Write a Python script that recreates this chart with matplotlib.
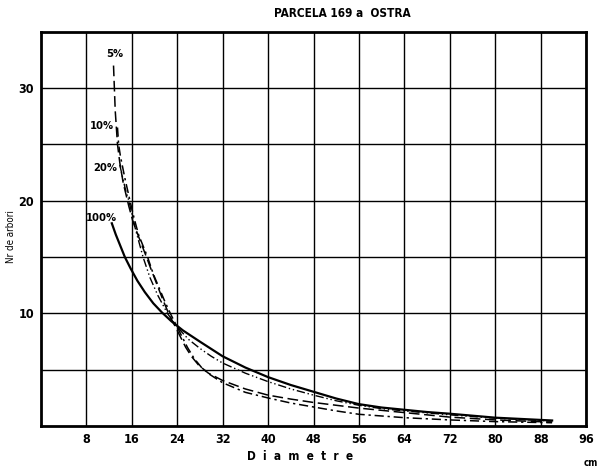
import matplotlib.pyplot as plt

plt.rcParams['font.family'] = ['Liberation Sans Narrow', 'DejaVu Sans']
plt.rcParams['font.stretch'] = 'condensed'

# distributia arborilor pe diametre, pentru fiecare intensitate de sondaj
x_100 = [12.5, 13.2, 14.0, 14.8, 15.8, 17.0, 18.3, 19.8, 21.3, 23.0, 25.0, 28.0, 32.0, 36.0, 40.0,
         44.0, 48.0, 52.0, 56.0, 60.0, 64.0, 68.0, 72.0, 80.0, 90.0]
y_100 = [18.0, 17.0, 16.0, 15.0, 14.0, 12.9, 11.9, 10.9, 10.1, 9.3, 8.5, 7.5, 6.2, 5.2, 4.35,
         3.65, 3.05, 2.45, 1.95, 1.65, 1.45, 1.25, 1.1, 0.75, 0.5]

x_20 = [13.9, 14.3, 14.9, 15.5, 16.7, 18.0, 19.2, 20.6, 22.3, 24.0, 26.0, 28.0, 30.0, 32.0, 36.0,
        40.0, 44.0, 48.0, 52.0, 56.0, 60.0, 64.0, 72.0, 80.0, 90.0]
y_20 = [23.2, 22.3, 21.0, 20.0, 17.4, 15.0, 13.2, 11.6, 10.0, 8.8, 7.7, 6.9, 6.2, 5.6, 4.7,
        3.95, 3.3, 2.75, 2.25, 1.85, 1.55, 1.35, 1.0, 0.7, 0.45]

x_10 = [13.5, 13.7, 14.0, 14.8, 15.7, 16.4, 17.2, 18.8, 19.8, 20.8, 21.8, 22.8, 23.8, 24.8, 25.8,
        27.0, 28.3, 29.7, 32.0, 36.0, 40.0, 44.0, 48.0, 52.0, 56.0, 64.0, 72.0, 80.0, 90.0]
y_10 = [26.5, 25.0, 24.0, 22.0, 20.0, 18.5, 17.0, 15.0, 13.5, 12.3, 11.1, 10.0, 9.0, 8.0, 7.0,
        6.0, 5.2, 4.6, 3.85, 3.0, 2.5, 2.05, 1.7, 1.35, 1.05, 0.75, 0.55, 0.4, 0.3]

x_5 = [12.8, 12.95, 13.1, 13.3, 13.5, 13.9, 14.5, 15.5, 16.2, 17.0, 18.6, 19.5, 20.5, 21.5, 22.5,
       23.5, 24.5, 25.5, 26.5, 27.8, 29.5, 32.0, 36.0, 40.0, 44.0, 48.0, 52.0, 56.0, 64.0, 72.0,
       80.0, 90.0]
y_5 = [32.0, 30.0, 28.0, 26.5, 25.0, 23.4, 21.6, 19.5, 18.2, 17.1, 15.0, 13.8, 12.5, 11.2, 10.0,
       9.0, 8.0, 7.0, 6.2, 5.4, 4.7, 4.05, 3.3, 2.75, 2.4, 2.1, 1.85, 1.6, 1.2, 0.8,
       0.55, 0.35]

x_ticks = [8, 16, 24, 32, 40, 48, 56, 64, 72, 80, 88, 96]
y_ticks = [10, 20, 30]

fig = plt.figure(figsize=(6, 4.74), dpi=100)
ax = fig.add_axes([0.068, 0.101, 0.909, 0.832])

ax.plot(x_100, y_100, color='black', lw=1.6, ls='-')
ax.plot(x_20, y_20, color='black', lw=1.0, ls=(0, (6, 2, 1, 2, 1, 2)))
ax.plot(x_10, y_10, color='black', lw=1.1, ls=(0, (6, 2.5, 1.5, 2.5)))
ax.plot(x_5, y_5, color='black', lw=1.1, ls=(0, (7, 3)))

ax.text(13.0, 32.6, '5%', fontsize=8, fontweight='bold', ha='center', va='bottom')
ax.text(12.9, 26.6, '10%', fontsize=8, fontweight='bold', ha='right', va='center')
ax.text(13.5, 22.9, '20%', fontsize=8, fontweight='bold', ha='right', va='center')
ax.text(13.4, 18.5, '100%', fontsize=8, fontweight='bold', ha='right', va='center')

ax.set_xlim(0, 96)
ax.set_ylim(0, 35)
ax.set_xticks(x_ticks)
ax.set_xticklabels([str(v) for v in x_ticks], fontsize=9, fontweight='bold')
ax.set_yticks(y_ticks)
ax.set_yticklabels([str(v) for v in y_ticks], fontsize=9, fontweight='bold')
ax.set_yticks([5, 15, 25], minor=True)
ax.tick_params(which='both', length=0, pad=5)

ax.grid(True, which='both', color='black', lw=1.0)
ax.set_axisbelow(True)
for side in ax.spines.values():
    side.set_linewidth(2.0)

fig.text(0.57, 0.972, 'PARCELA 169 a  OSTRA', fontsize=8.5, fontweight='bold', ha='center', va='center')
fig.text(0.018, 0.5, 'Nr de arbori', fontsize=7, rotation=90, ha='center', va='center')
fig.text(0.5, 0.036, 'D  i  a  m  e  t  r  e', fontsize=8.5, fontweight='bold', ha='center', va='center')
fig.text(0.985, 0.024, 'cm', fontsize=7, fontweight='bold', ha='center', va='center')

fig.savefig('out.png', dpi=100)
